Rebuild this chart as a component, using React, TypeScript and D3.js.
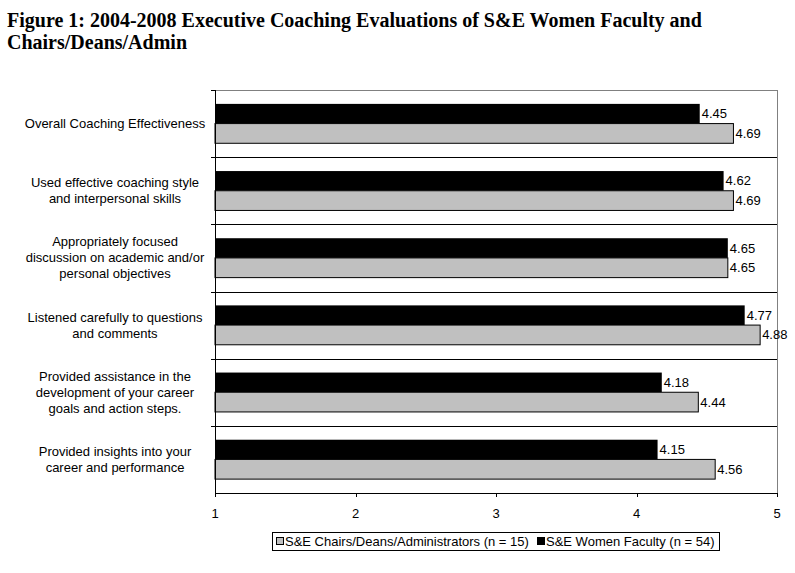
import React from "react";
import * as d3 from "d3";

const categories: string[][] = [
  ["Overall Coaching Effectiveness"],
  ["Used effective coaching style", "and interpersonal skills"],
  ["Appropriately focused", "discussion on academic and/or", "personal objectives"],
  ["Listened carefully to questions", "and comments"],
  ["Provided assistance in the", "development of your career", "goals and action steps."],
  ["Provided insights into your", "career and performance"],
];
const facultyValues = [4.45, 4.62, 4.65, 4.77, 4.18, 4.15];
const chairsValues = [4.69, 4.69, 4.65, 4.88, 4.44, 4.56];
const xTicks = [1, 2, 3, 4, 5];
const seriesNames = ["S&E Chairs/Deans/Administrators (n = 15)", "S&E Women Faculty (n = 54)"];
const titleLines = [
  "Figure 1: 2004-2008 Executive Coaching Evaluations of S&E Women Faculty and",
  "Chairs/Deans/Admin",
];

const W = 795, H = 573;
const L = 215, R = 777, T = 90, B = 493;
const font = "Arial, 'Liberation Sans', sans-serif";

export default function App() {
  const x = d3.scaleLinear().domain([1, 5]).range([L, R]);
  const idx = categories.map((_, i) => i);
  const y = d3.scaleBand<number>().domain(idx).range([T, B]).paddingInner(0).paddingOuter(0);
  const rowH = y.bandwidth();
  const inner = d3.scaleBand<string>().domain(["f", "c"]).range([0, rowH]).paddingInner(0).paddingOuter(0.705);
  const bh = inner.bandwidth();
  return (
    <svg width={W} height={H} style={{ position: "absolute", left: 0, top: 0, background: "#fff" }}>
      <rect x={0} y={0} width={W} height={H} fill="#fff" />
      {titleLines.map((t, i) => (
        <text key={i} x={7} y={27 + i * 22} fontFamily="'Liberation Serif', 'Times New Roman', serif" fontWeight="bold" fontSize={20}>
          {t}
        </text>
      ))}
      <line x1={L} x2={R} y1={T + 0.5} y2={T + 0.5} stroke="#808080" />
      <line x1={R + 0.5} x2={R + 0.5} y1={T} y2={B} stroke="#808080" />
      {idx.map((i) => {
        const yy = Math.round(y(i)! + rowH) + 0.5;
        return i < categories.length - 1 ? (
          <line key={i} x1={L - 4} x2={R} y1={yy} y2={yy} stroke="#000" />
        ) : null;
      })}
      <line x1={L - 4} x2={L} y1={T + 0.5} y2={T + 0.5} stroke="#000" />
      {idx.map((i) => {
        const y0 = y(i)!;
        const yf = y0 + inner("f")!;
        const yc = y0 + inner("c")!;
        return (
          <g key={i}>
            <rect x={L} y={yf} width={x(facultyValues[i]) - L} height={bh} fill="#000" />
            <rect x={L} y={yc} width={x(chairsValues[i]) - L} height={bh} fill="#c0c0c0" stroke="#000" strokeWidth={1} />
            <text x={x(facultyValues[i]) + 2} y={yf + bh / 2 + 4.5} fontFamily={font} fontSize={13}>
              {facultyValues[i].toFixed(2)}
            </text>
            <text x={x(chairsValues[i]) + 2} y={yc + bh / 2 + 4.5} fontFamily={font} fontSize={13}>
              {chairsValues[i].toFixed(2)}
            </text>
            {categories[i].map((line, k) => (
              <text
                key={k}
                x={115}
                y={y0 + rowH / 2 + 4.5 + (k - (categories[i].length - 1) / 2) * 16}
                textAnchor="middle"
                fontFamily={font}
                fontSize={13}
              >
                {line}
              </text>
            ))}
          </g>
        );
      })}
      <line x1={L + 0.5} x2={L + 0.5} y1={T} y2={B} stroke="#000" />
      <line x1={L} x2={R + 1} y1={B + 0.5} y2={B + 0.5} stroke="#000" />
      {xTicks.map((t) => (
        <g key={t}>
          <line x1={Math.round(x(t)) + 0.5} x2={Math.round(x(t)) + 0.5} y1={B} y2={B + 4} stroke="#000" />
          <text x={x(t)} y={518} textAnchor="middle" fontFamily={font} fontSize={13}>
            {t}
          </text>
        </g>
      ))}
      <rect x={272.5} y={532.5} width={447} height={18} fill="#fff" stroke="#000" />
      <rect x={276.5} y={537.5} width={7} height={7} fill="#c0c0c0" stroke="#000" />
      <text x={285} y={546} fontFamily={font} fontSize={13}>{seriesNames[0]}</text>
      <rect x={537.5} y={537.5} width={7} height={7} fill="#000" stroke="#000" />
      <text x={546} y={546} fontFamily={font} fontSize={13}>{seriesNames[1]}</text>
    </svg>
  );
}
